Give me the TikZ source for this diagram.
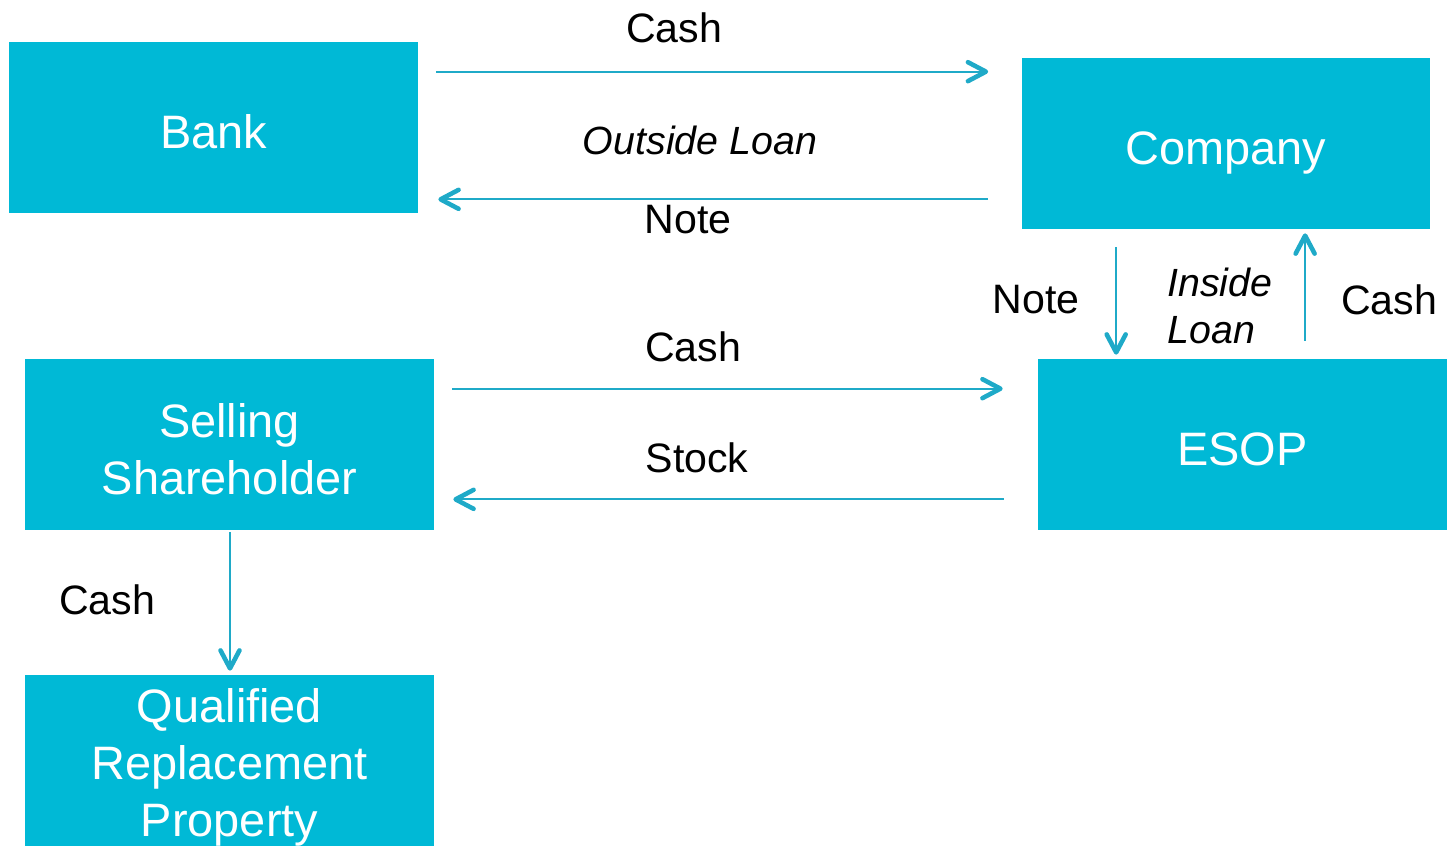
\documentclass[tikz,border=0pt]{standalone}
\usepackage{xcolor}
\usepackage{fontspec}
\setmainfont{Liberation Sans}
\usepackage{tikz}
\usetikzlibrary{shapes,arrows,arrows.meta}
\definecolor{boxcyan}{HTML}{00B9D6}
\definecolor{arrowcyan}{HTML}{1FAAC8}
\newcommand{\upstrut}{\rule{0pt}{29.8pt}}
\newcommand{\downstrut}{\rule[-5.6pt]{0pt}{5.6pt}}
\tikzstyle{block} = [rectangle, fill=boxcyan, text=white, inner sep=0pt,
    minimum width=8.18cm, minimum height=3.42cm, align=center,
    font=\fontsize{26.7}{32.4}\selectfont]
\tikzstyle{flowtext} = [inner sep=0pt, font=\fontsize{23.4}{26.7}\selectfont]
\tikzstyle{flowitalic} = [inner sep=0pt, font=\fontsize{22.4}{26.7}\selectfont\itshape]
\tikzstyle{line} = [draw, arrowcyan, line width=1.1pt,
    -{Straight Barb[length=0.36cm, width=0.38cm, line width=2.6pt, round]}]

\begin{document}
\begin{tikzpicture}[x=0.02cm, y=-0.02cm]
    \useasboundingbox (0,0) rectangle (1448,846);
    % Place nodes
    \node [block] (bank) at (213.5,127.5) {\upstrut Bank\downstrut};
    \node [block] (company) at (1226,143.5) {\upstrut Company\downstrut};
    \node [block] (seller) at (229.5,444.5) {\upstrut Selling\\Shareholder\downstrut};
    \node [block] (esop) at (1242.5,444.5) {\upstrut ESOP\downstrut};
    \node [block] (qrp) at (229.5,760.5) {\rule{0pt}{26.8pt}Qualified\\Replacement\\Property};

    % Labels
    \node [flowtext] (cashtop) at (674,28) {Cash};
    \node [flowitalic] (outside) at (700,140) {Outside Loan};
    \node [flowtext] (notetop) at (688,220) {Note};
    \node [flowtext] (noteside) at (1036,300) {Note};
    \node [flowitalic, anchor=west, align=left] (inside) at (1167,306) {Inside\\Loan};
    \node [flowtext] (cashside) at (1389,300) {Cash};
    \node [flowtext] (cashmid) at (693,347) {Cash};
    \node [flowtext] (stock) at (697,458) {Stock};
    \node [flowtext] (cashlow) at (107,600) {Cash};

    % Draw edges
    \path [line] ([xshift=0.36cm,yshift=-0.6cm]bank.north east) -- ([xshift=-0.66cm,yshift=-0.6cm]bank.north east -| company.west);
    \path [line] ([xshift=-0.66cm,yshift=0.28cm]bank.south east -| company.west) -- ([xshift=0.4cm,yshift=0.28cm]bank.south east);
    \path [line] ([xshift=1.9cm,yshift=-0.36cm]company.south west) -- ([xshift=1.9cm,yshift=0.08cm]company.south west |- esop.north);
    \path [line] ([xshift=5.68cm,yshift=0.36cm]company.south west |- esop.north) -- ([xshift=5.68cm,yshift=-0.08cm]company.south west);
    \path [line] ([xshift=0.36cm,yshift=-0.6cm]seller.north east) -- ([xshift=-0.7cm,yshift=-0.6cm]seller.north east -| esop.west);
    \path [line] ([xshift=-0.68cm,yshift=0.62cm]seller.south east -| esop.west) -- ([xshift=0.38cm,yshift=0.62cm]seller.south east);
    \path [line] ([xshift=0.01cm,yshift=-0.04cm]seller.south) -- ([xshift=0.01cm,yshift=0.08cm]qrp.north);
\end{tikzpicture}
\end{document}
